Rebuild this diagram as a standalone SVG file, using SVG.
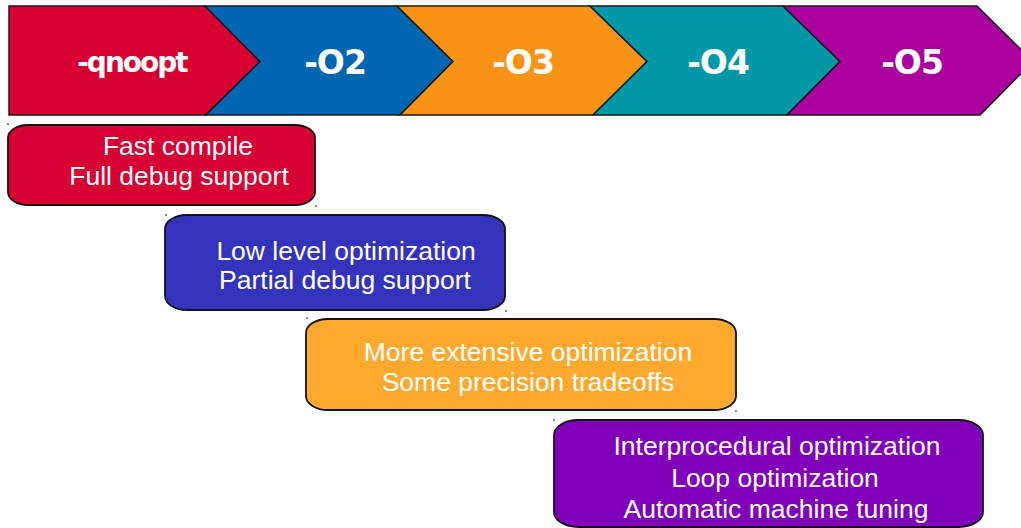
<svg xmlns="http://www.w3.org/2000/svg" width="1021" height="528" viewBox="0 0 1021 528">
  <style>
    .stage { stroke: #1a1a1a; stroke-width: 1.5; stroke-linejoin: miter; }
    .stage-label { font-family: "DejaVu Sans", sans-serif; font-weight: bold; fill: #ffffff; text-anchor: middle; }
    .box { stroke: #111111; stroke-width: 1.8; }
    .box-text { font-family: "Liberation Sans", Arial, sans-serif; font-size: 26.5px; fill: #ffffff; text-anchor: middle; }
    .handle { fill: #888888; }
  </style>

  <!-- optimization level banner -->
  <g id="banner">
    <g id="stage-qnoopt">
      <polygon class="stage" fill="#D70030" points="9,6 205,6 260,61.5 206,115 9,115"/>
      <text class="stage-label" x="132" y="72" font-size="28" letter-spacing="-2">-qnoopt</text>
    </g>
    <g id="stage-o2">
      <polygon class="stage" fill="#0066B1" points="205,6 397,6 453,61.5 400,115 206,115 260,61.5"/>
      <text class="stage-label" x="335" y="74" font-size="33" letter-spacing="-1">-O2</text>
    </g>
    <g id="stage-o3">
      <polygon class="stage" fill="#F99316" points="397,6 590,6 647,61.5 593,115 400,115 453,61.5"/>
      <text class="stage-label" x="523" y="74" font-size="33" letter-spacing="-1">-O3</text>
    </g>
    <g id="stage-o4">
      <polygon class="stage" fill="#0097A6" points="590,6 783,6 840,61.5 787,115 593,115 647,61.5"/>
      <text class="stage-label" x="718" y="74" font-size="33" letter-spacing="-1">-O4</text>
    </g>
    <g id="stage-o5">
      <polygon class="stage" fill="#AB009E" points="783,6 977,6 1033,61.5 980,115 787,115 840,61.5"/>
      <text class="stage-label" x="912" y="74" font-size="33" letter-spacing="-1">-O5</text>
    </g>
  </g>

  <!-- description boxes, one per level range -->
  <g id="box-noopt">
    <rect class="box" x="8" y="125" width="307" height="80" rx="20" ry="13" fill="#D70032"/>
    <text class="box-text" x="178" y="155">Fast compile</text>
    <text class="box-text" x="179" y="185">Full debug support</text>
    <rect class="handle" x="7" y="123" width="2" height="2"/>
    <rect class="handle" x="315" y="205" width="2" height="2"/>
  </g>

  <g id="box-o2">
    <rect class="box" x="165" y="215" width="340" height="95" rx="22" ry="14" fill="#3333BB"/>
    <text class="box-text" x="346" y="260">Low level optimization</text>
    <text class="box-text" x="345" y="289">Partial debug support</text>
    <rect class="handle" x="165" y="214" width="2" height="2"/>
    <rect class="handle" x="505" y="310" width="2" height="2"/>
  </g>

  <g id="box-o3">
    <rect class="box" x="306" y="319" width="430" height="91" rx="22" ry="14" fill="#FFAA2E"/>
    <text class="box-text" x="528" y="361">More extensive optimization</text>
    <text class="box-text" x="528" y="391">Some precision tradeoffs</text>
    <rect class="handle" x="306" y="317" width="2" height="2"/>
    <rect class="handle" x="735" y="410" width="2" height="2"/>
  </g>

  <g id="box-o4-o5">
    <rect class="box" x="554" y="420" width="429" height="107" rx="24" ry="15" fill="#8000B9"/>
    <text class="box-text" x="777" y="455">Interprocedural optimization</text>
    <text class="box-text" x="775" y="487">Loop optimization</text>
    <text class="box-text" x="776" y="518">Automatic machine tuning</text>
    <rect class="handle" x="553" y="419" width="2" height="2"/>
  </g>

  <!-- no connectors in this diagram -->
  <g id="connectors"/>
</svg>
